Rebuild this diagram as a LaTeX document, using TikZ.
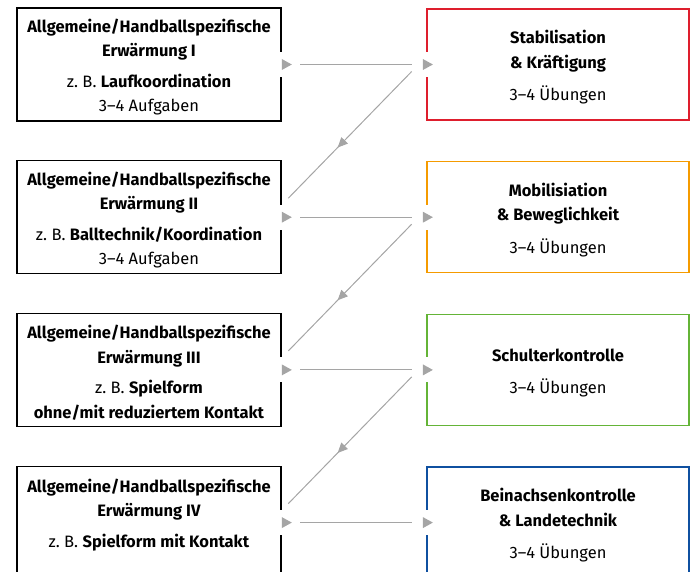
\documentclass[tikz,border=0pt]{standalone}
\usepackage{fontspec}
\setmainfont{Fira Sans}
\usetikzlibrary{shapes.geometric, arrows.meta, positioning, decorations.markings}
\definecolor{boxred}{RGB}{222,30,45}
\definecolor{boxorange}{RGB}{245,155,0}
\definecolor{boxgreen}{RGB}{100,180,55}
\definecolor{boxblue}{RGB}{15,80,160}
\definecolor{linkgray}{RGB}{165,165,165}
\newcommand{\topgap}{\rule{0pt}{19pt}}

\begin{document}
\begin{tikzpicture}[x=1pt, y=-1pt,
    font=\fontsize{16.5}{24.5}\selectfont,
    warmup/.style={draw=black, line width=1.2pt, minimum width=264pt, minimum height=113pt, align=center, inner sep=0pt},
    block/.style={draw=#1, line width=1.3pt, minimum width=262pt, minimum height=111pt, align=center, inner sep=0pt},
    cut/.style={fill=white, inner sep=0pt, minimum width=4pt, minimum height=25pt},
    tip/.style={isosceles triangle, isosceles triangle stretches, fill=linkgray, inner sep=0pt, minimum width=11pt, minimum height=10pt},
    link/.style={draw=linkgray, line width=1pt},
    back/.style={link, postaction={decorate}, decoration={markings, mark=at position 0.6 with {\arrow[linkgray]{Triangle[length=10pt,width=9pt]}}}}]
    \useasboundingbox (0,0) rectangle (691,572);
    \clip (0,0) rectangle (691,572);

    % warm-up boxes (left)
    \node[warmup] (w1) at (149,64.5) {\topgap\textbf{Allgemeine/Handballspezifische}\\ \textbf{Erwärmung I}\\[6pt] z.~B. \textbf{Laufkoordination}\\ 3--4 Aufgaben};
    \node[warmup, below=38.5pt of w1] (w2) {\topgap\textbf{Allgemeine/Handballspezifische}\\ \textbf{Erwärmung II}\\[6pt] z.~B. \textbf{Balltechnik/Koordination}\\ 3--4 Aufgaben};
    \node[warmup, below=38.5pt of w2] (w3) {\topgap\textbf{Allgemeine/Handballspezifische}\\ \textbf{Erwärmung III}\\[6pt] z.~B. \textbf{Spielform}\\ \textbf{ohne/mit reduziertem Kontakt}};
    \node[warmup, below=38.5pt of w3] (w4) {\topgap\textbf{Allgemeine/Handballspezifische}\\ \textbf{Erwärmung IV}\\[6pt] z.~B. \textbf{Spielform mit Kontakt}\\ \mbox{}};

    % training blocks (right)
    \node[block=boxred, right=144.8pt of w1] (b1) {\topgap\textbf{Stabilisation}\\ \textbf{\& Kräftigung}\\[8pt] 3--4 Übungen};
    \node[block=boxorange, right=144.8pt of w2] (b2) {\topgap\textbf{Mobilisiation}\\ \textbf{\& Beweglichkeit}\\[8pt] 3--4 Übungen};
    \node[block=boxgreen, right=144.8pt of w3] (b3) {\topgap\textbf{Schulterkontrolle}\\[8pt] 3--4 Übungen};
    \node[block=boxblue, right=144.8pt of w4] (b4) {\topgap\textbf{Beinachsenkontrolle}\\ \textbf{\& Landetechnik}\\[8pt] 3--4 Übungen};

    % gaps and markers on the borders
    \node[cut] at (w1.east) {};
    \node[cut] at (w2.east) {};
    \node[cut] at (w3.east) {};
    \node[cut] at (w4.east) {};
    \node[cut] at (b1.west) {};
    \node[cut] at (b2.west) {};
    \node[cut] at (b3.west) {};
    \node[cut] at (b4.west) {};
    \node[tip, right=0pt of w1] (o1) {};
    \node[tip, right=0pt of w2] (o2) {};
    \node[tip, right=0pt of w3] (o3) {};
    \node[tip, right=0pt of w4] (o4) {};
    \node[tip, left=-7pt of b1] (i1) {};
    \node[tip, left=-7pt of b2] (i2) {};
    \node[tip, left=-7pt of b3] (i3) {};
    \node[tip, left=-7pt of b4] (i4) {};

    % links across
    \draw[link, shorten <=8pt, shorten >=11pt] (o1) -- (i1);
    \draw[link, shorten <=8pt, shorten >=11pt] (o2) -- (i2);
    \draw[link, shorten <=8pt, shorten >=11pt] (o3) -- (i3);
    \draw[link, shorten <=8pt, shorten >=11pt] (o4) -- (i4);

    % links back to the next warm-up
    \draw[back] ([xshift=-11pt,yshift=-7pt]i1.west) -- ([xshift=-4pt,yshift=19pt]o2.east);
    \draw[back] ([xshift=-11pt,yshift=-7pt]i2.west) -- ([xshift=-4pt,yshift=19pt]o3.east);
    \draw[back] ([xshift=-11pt,yshift=-7pt]i3.west) -- ([xshift=-4pt,yshift=19pt]o4.east);
\end{tikzpicture}
\end{document}
